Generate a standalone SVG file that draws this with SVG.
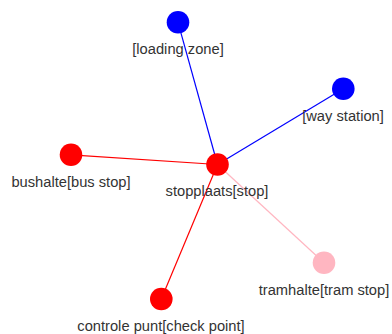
<svg xmlns="http://www.w3.org/2000/svg" width="392" height="334" viewBox="0 0 392 334">
<style>
  .lbl { font-family: "Liberation Sans", Arial, sans-serif; font-size: 14.7px; fill: #333333; text-anchor: middle; }
  .edge { stroke-width: 1.2; fill: none; }
  .blue { stroke: #0000ff; }
  .red { stroke: #ff0000; }
  .pink { stroke: #ffb6c1; }
</style>
<rect width="392" height="334" fill="#ffffff"/>
<g id="connectors">
  <line class="edge blue" x1="178" y1="22.3" x2="217.5" y2="164.5"/>
  <line class="edge blue" x1="343.3" y1="88.7" x2="217.5" y2="164.5"/>
  <line class="edge red" x1="71" y1="154.8" x2="217.5" y2="164.5"/>
  <line class="edge red" x1="161.3" y1="299" x2="217.5" y2="164.5"/>
  <line class="edge pink" x1="324" y1="262.8" x2="217.5" y2="164.5"/>
</g>
<g id="node-loading-zone">
  <circle cx="178" cy="22.3" r="11.3" fill="#0000ff"/>
  <text class="lbl" x="178" y="54">[loading zone]</text>
</g>
<g id="node-way-station">
  <circle cx="343.3" cy="88.7" r="11.3" fill="#0000ff"/>
  <text class="lbl" x="343" y="121">[way station]</text>
</g>
<g id="node-bushalte">
  <circle cx="71" cy="154.8" r="11.3" fill="#ff0000"/>
  <text class="lbl" x="71" y="187">bushalte[bus stop]</text>
</g>
<g id="node-stopplaats">
  <circle cx="217.5" cy="164.5" r="11.3" fill="#ff0000"/>
  <text class="lbl" x="217" y="196">stopplaats[stop]</text>
</g>
<g id="node-tramhalte">
  <circle cx="324" cy="262.8" r="11.3" fill="#ffb6c1"/>
  <text class="lbl" x="324" y="294.5">tramhalte[tram stop]</text>
</g>
<g id="node-controle-punt">
  <circle cx="161.3" cy="299" r="11.3" fill="#ff0000"/>
  <text class="lbl" x="161" y="330.5">controle punt[check point]</text>
</g>
</svg>
